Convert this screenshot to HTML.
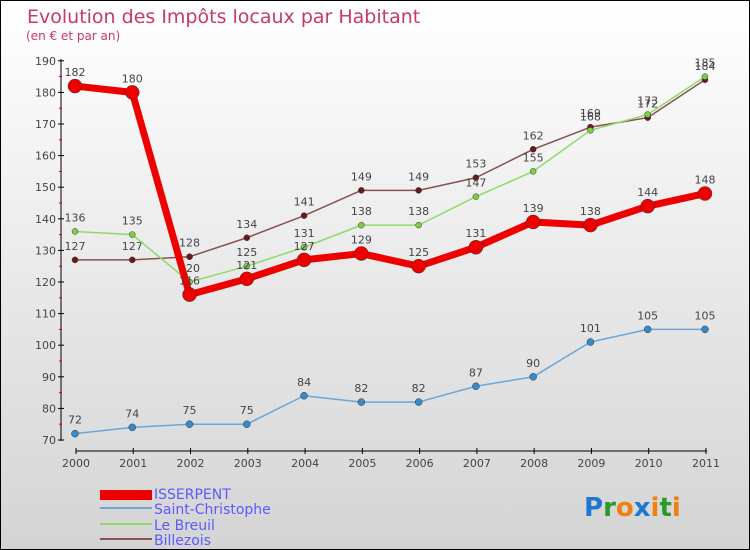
<!DOCTYPE html>
<html><head><meta charset="utf-8"><style>
body{margin:0}
#c{width:748px;height:548px;border:1px solid #000;background:linear-gradient(#fff,#d4d4d4);position:relative;font-family:"DejaVu Sans","Liberation Sans",sans-serif}
</style></head><body>
<div id="c">
<svg id="s" width="748" height="548" style="position:absolute;left:0;top:0">
<text x="26" y="22" font-size="19" fill="#c8386e">Evolution des Impôts locaux par Habitant</text>
<text x="25" y="39" font-size="12" fill="#c8386e">(en € et par an)</text>
<g id="axes"></g><g id="series"></g>
<g>
<rect x="99" y="489" width="52" height="10" fill="#e00"/>
<text x="153" y="498" font-size="14" fill="#5a5aff">ISSERPENT</text>
<rect x="99" y="506" width="52" height="2" fill="#6aa6d8"/>
<text x="153" y="513" font-size="14" fill="#5a5aff">Saint-Christophe</text>
<rect x="99" y="522" width="52" height="2" fill="#8edb6a"/>
<text x="153" y="529" font-size="14" fill="#5a5aff">Le Breuil</text>
<rect x="99" y="537" width="52" height="2" fill="#8a5050"/>
<text x="153" y="544" font-size="14" fill="#5a5aff">Billezois</text>
</g>
<text x="583" y="515" font-size="26" font-weight="bold"><tspan fill="#1e78d0">P</tspan><tspan fill="#2a9a2a">r</tspan><tspan fill="#f08010">o</tspan><tspan fill="#1e78d0">x</tspan><tspan fill="#f08010">i</tspan><tspan fill="#2a9a2a">t</tspan><tspan fill="#f08010">i</tspan></text>
</svg>
</div>
<script>
const years=[2000,2001,2002,2003,2004,2005,2006,2007,2008,2009,2010,2011];
const yTicks=[70,80,90,100,110,120,130,140,150,160,170,180,190];
const isserpent=[182,180,116,121,127,129,125,131,139,138,144,148];
const saintChristophe=[72,74,75,75,84,82,82,87,90,101,105,105];
const leBreuil=[136,135,120,125,131,138,138,147,155,168,173,185];
const billezois=[127,127,128,134,141,149,149,153,162,169,172,184];
const NS="http://www.w3.org/2000/svg";
const X=i=>74+i*57.27, Y=v=>439-(v-70)*3.16;
function mk(t,a,p){const e=document.createElementNS(NS,t);for(const k in a)e.setAttribute(k,a[k]);p.appendChild(e);return e;}
const ax=document.getElementById('axes');
let e=mk('line',{x1:60,y1:58,x2:60,y2:440,stroke:'#000'},ax);


e=mk('line',{x1:75,y1:450,x2:706,y2:450,stroke:'#000'},ax);


yTicks.forEach(v=>{
 mk('line',{x1:57,y1:Y(v),x2:63,y2:Y(v),stroke:'#000'},ax);
 if(v<190)mk('line',{x1:58,y1:Y(v+5),x2:61,y2:Y(v+5),stroke:'#d00'},ax);
 const t=mk('text',{x:55,y:Y(v)+4,'font-size':11,fill:'#444','text-anchor':'end'},ax);t.textContent=v;
 
 
});
years.forEach((y,i)=>{
 mk('line',{x1:X(i)+1,y1:447,x2:X(i)+1,y2:453,stroke:'#000'},ax);
 const t=mk('text',{x:X(i)+1,y:466,'font-size':11,fill:'#444','text-anchor':'middle'},ax);t.textContent=y;
 
 
});
const sg=document.getElementById('series');
function series(d,col,dot,w,r,name){
 const g=mk('g',{},sg);
 
 
 mk('polyline',{points:d.map((v,i)=>X(i)+','+Y(v)).join(' '),fill:'none',stroke:col,'stroke-width':w,'stroke-linejoin':'round'},g);
 d.forEach((v,i)=>{
  const c=mk('circle',{cx:X(i),cy:Y(v),r:r,fill:dot,stroke:'#333','stroke-width':0.5},g);
  
  
  const t=mk('text',{x:X(i),y:Y(v)-10,'font-size':11,fill:'#444','text-anchor':'middle'},g);t.textContent=v;
  
  
 });
}
series(billezois,'#8a5050','#6a1a1a',1.5,3,'billezois');
series(leBreuil,'#8edb6a','#7cd040',1.5,3,'le-breuil');
series(saintChristophe,'#6aa6d8','#3a8ac8',1.5,3.5,'saint-christophe');
series(isserpent,'#e00','#e00',7,7,'isserpent');
</script>
</body></html>
